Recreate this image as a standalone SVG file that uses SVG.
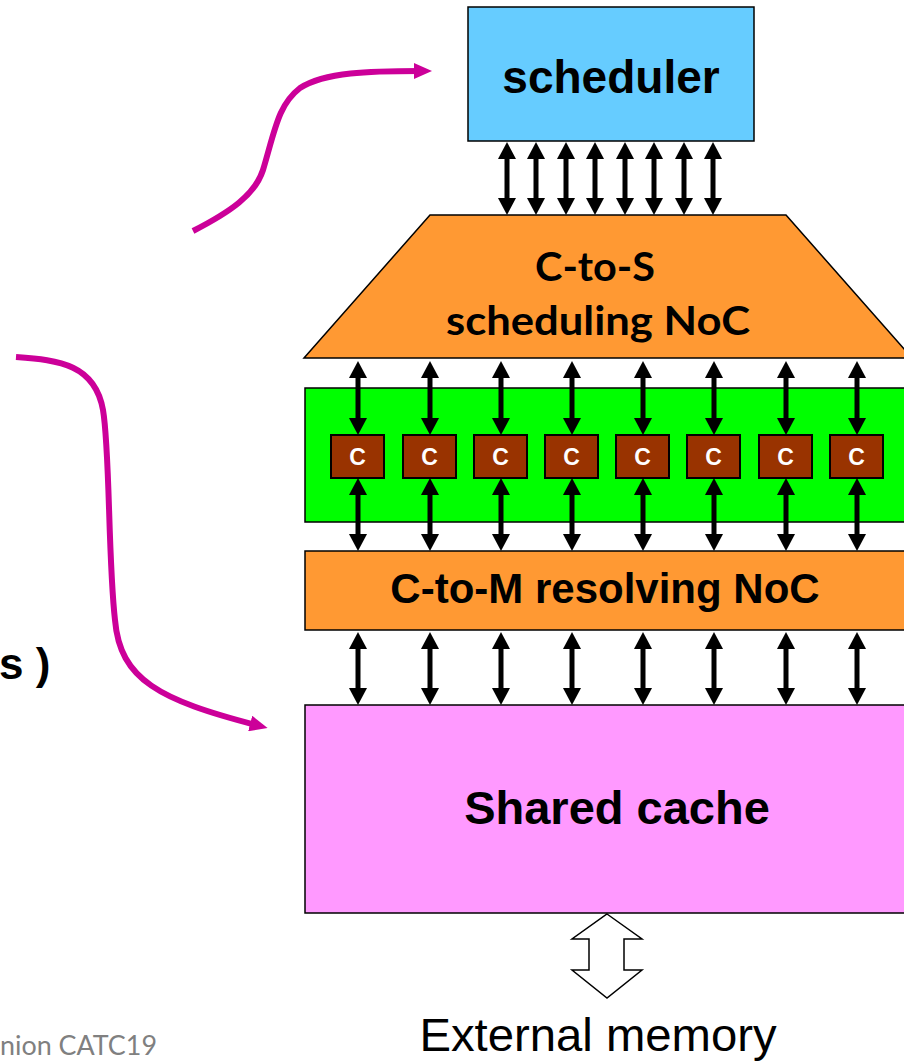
<svg xmlns="http://www.w3.org/2000/svg" width="904" height="1061" viewBox="0 0 904 1061">
<style>
.box{stroke:#000;stroke-width:1.5}
.ar{stroke:#000;stroke-width:5;fill:none;marker-start:url(#ah);marker-end:url(#ah)}
.mg{stroke:#CC0099;stroke-width:6;fill:none;marker-end:url(#mh)}
.ab{font-family:"Liberation Sans",Arial,sans-serif;font-weight:bold;fill:#000;text-anchor:middle}
.cal{font-family:Lato,"Open Sans",sans-serif;font-weight:bold;fill:#000;text-anchor:middle}
.core{fill:#993300;stroke:#000;stroke-width:2}
.ct{font-family:"Liberation Sans",Arial,sans-serif;font-weight:bold;font-size:23px;fill:#fff;text-anchor:middle}
</style>
<defs>
<marker id="ah" viewBox="0 0 17 18" markerWidth="17" markerHeight="18" refX="8" refY="9" orient="auto-start-reverse" markerUnits="userSpaceOnUse">
<path d="M0,0 L17,9 L0,18 z" fill="#000"/>
</marker>
<marker id="mh" viewBox="0 0 18 16" markerWidth="18" markerHeight="16" refX="6" refY="8" orient="auto" markerUnits="userSpaceOnUse">
<path d="M0,0 L18,8 L0,16 z" fill="#CC0099"/>
</marker>
</defs>
<rect width="904" height="1061" fill="#fff"/>

<g id="scheduler">
<rect class="box" x="468" y="7" width="286" height="134" fill="#66CCFF"/>
<text class="ab" x="611" y="93" font-size="46">scheduler</text>
</g>

<g id="c-to-s-noc">
<polygon class="box" points="430,215 786,215 912,358 304,358" fill="#FF9933"/>
<text class="cal" x="595" y="281" font-size="40" textLength="120" lengthAdjust="spacingAndGlyphs">C-to-S</text>
<text class="cal" x="598" y="335" font-size="40" textLength="304" lengthAdjust="spacingAndGlyphs">scheduling NoC</text>
</g>

<g id="core-array">
<rect class="box" x="305" y="388" width="606" height="134" fill="#00FF00"/>
</g>

<g id="cores">
<g id="core1"><rect class="core" x="331" y="435" width="53" height="43"/><text class="ct" x="357.5" y="465">C</text></g>
<g id="core2"><rect class="core" x="403" y="435" width="53" height="43"/><text class="ct" x="429.5" y="465">C</text></g>
<g id="core3"><rect class="core" x="474" y="435" width="53" height="43"/><text class="ct" x="500.5" y="465">C</text></g>
<g id="core4"><rect class="core" x="545" y="435" width="53" height="43"/><text class="ct" x="571.5" y="465">C</text></g>
<g id="core5"><rect class="core" x="616" y="435" width="53" height="43"/><text class="ct" x="642.5" y="465">C</text></g>
<g id="core6"><rect class="core" x="687" y="435" width="53" height="43"/><text class="ct" x="713.5" y="465">C</text></g>
<g id="core7"><rect class="core" x="759" y="435" width="53" height="43"/><text class="ct" x="785.5" y="465">C</text></g>
<g id="core8"><rect class="core" x="830" y="435" width="53" height="43"/><text class="ct" x="856.5" y="465">C</text></g>
</g>

<g id="c-to-m-noc">
<rect class="box" x="305" y="551" width="606" height="79" fill="#FF9933"/>
<text class="ab" x="605" y="603" font-size="42">C-to-M resolving NoC</text>
</g>

<g id="shared-cache">
<rect class="box" x="305" y="705" width="606" height="208" fill="#FF99FF"/>
<text class="ab" x="617" y="824" font-size="47">Shared cache</text>
</g>

<g id="external-memory">
<polygon points="607,914 642,939 624,939 624,970 642,970 607,998 572,970 589,970 589,939 572,939" fill="#fff" stroke="#000" stroke-width="1.5"/>
<text x="598" y="1051" font-family="Liberation Sans,Arial,sans-serif" font-size="46" text-anchor="middle" fill="#000" textLength="357" lengthAdjust="spacingAndGlyphs">External memory</text>
</g>

<g id="side-texts">
<text x="-1" y="679" font-family="Liberation Sans,Arial,sans-serif" font-weight="bold" font-size="44" fill="#000">s )</text>
<text x="0" y="1055" font-family="Lato,'Open Sans',sans-serif" font-size="26" fill="#808080" textLength="157" lengthAdjust="spacingAndGlyphs">nion CATC19</text>
</g>

<g id="connectors">
<line class="ar" x1="507" y1="151" x2="507" y2="206"/>
<line class="ar" x1="536" y1="151" x2="536" y2="206"/>
<line class="ar" x1="566" y1="151" x2="566" y2="206"/>
<line class="ar" x1="595" y1="151" x2="595" y2="206"/>
<line class="ar" x1="625" y1="151" x2="625" y2="206"/>
<line class="ar" x1="654" y1="151" x2="654" y2="206"/>
<line class="ar" x1="684" y1="151" x2="684" y2="206"/>
<line class="ar" x1="713" y1="151" x2="713" y2="206"/>

<line class="ar" x1="358" y1="370" x2="358" y2="426"/>
<line class="ar" x1="430" y1="370" x2="430" y2="426"/>
<line class="ar" x1="501" y1="370" x2="501" y2="426"/>
<line class="ar" x1="572" y1="370" x2="572" y2="426"/>
<line class="ar" x1="643" y1="370" x2="643" y2="426"/>
<line class="ar" x1="714" y1="370" x2="714" y2="426"/>
<line class="ar" x1="786" y1="370" x2="786" y2="426"/>
<line class="ar" x1="857" y1="370" x2="857" y2="426"/>

<line class="ar" x1="358" y1="487" x2="358" y2="542"/>
<line class="ar" x1="430" y1="487" x2="430" y2="542"/>
<line class="ar" x1="501" y1="487" x2="501" y2="542"/>
<line class="ar" x1="572" y1="487" x2="572" y2="542"/>
<line class="ar" x1="643" y1="487" x2="643" y2="542"/>
<line class="ar" x1="714" y1="487" x2="714" y2="542"/>
<line class="ar" x1="786" y1="487" x2="786" y2="542"/>
<line class="ar" x1="857" y1="487" x2="857" y2="542"/>

<line class="ar" x1="358" y1="641" x2="358" y2="696"/>
<line class="ar" x1="430" y1="641" x2="430" y2="696"/>
<line class="ar" x1="501" y1="641" x2="501" y2="696"/>
<line class="ar" x1="572" y1="641" x2="572" y2="696"/>
<line class="ar" x1="643" y1="641" x2="643" y2="696"/>
<line class="ar" x1="714" y1="641" x2="714" y2="696"/>
<line class="ar" x1="786" y1="641" x2="786" y2="696"/>
<line class="ar" x1="857" y1="641" x2="857" y2="696"/>

<path class="mg" d="M193,231 C230,212 255,195 263,170 C275,130 278,105 300,88 C325,72 370,71 420,71"/>
<path class="mg" d="M16,357 C60,360 95,365 103,410 C110,450 108,560 115,620 C120,680 160,700 256,725"/>
</g>
</svg>
